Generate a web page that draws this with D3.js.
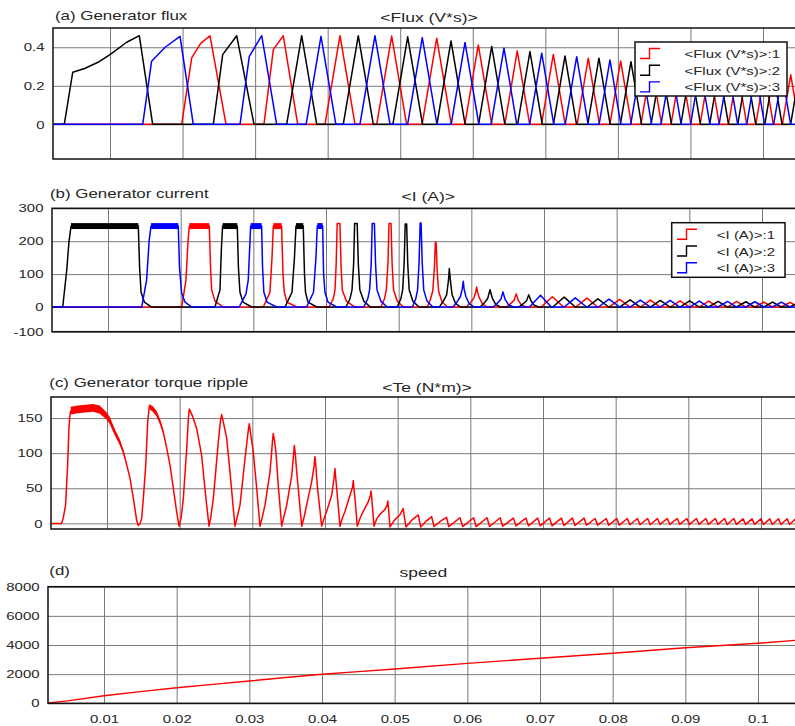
<!DOCTYPE html>
<html><head><meta charset="utf-8">
<script src="https://cdn.jsdelivr.net/npm/d3@7"></script>
<style>body{margin:0;background:#fff}svg{display:block}</style>
</head><body>
<svg id="chart" width="795" height="726"></svg>
<script>
// ---------------- DATA (time in ms) ----------------
const timeTicks = [10, 20, 30, 40, 50, 60, 70, 80, 90, 100];
const timeTickLabels = ["0.01", "0.02", "0.03", "0.04", "0.05", "0.06", "0.07", "0.08", "0.09", "0.1"];

const seriesColors = ["#ff0000", "#000000", "#0000ff"];
const fluxNames = ["<Flux (V*s)>:1", "<Flux (V*s)>:2", "<Flux (V*s)>:3"];
const currentNames = ["<I (A)>:1", "<I (A)>:2", "<I (A)>:3"];

const fluxTickValues = [0, 0.2, 0.4];
const fluxTickLabels = ["0", "0.2", "0.4"];
const currentTickValues = [-75, 0, 100, 200, 300];
const currentTickLabels = ["-100", "0", "100", "200", "300"];
const torqueTickValues = [0, 50, 100, 150];
const torqueTickLabels = ["0", "50", "100", "150"];
const speedTickValues = [0, 2000, 4000, 6000, 8000];
const speedTickLabels = ["0", "2000", "4000", "6000", "8000"];

// pulses: [tStart, t1, v1, t2, v2, ..., tEnd]  (value 0 at tStart and tEnd)
const fluxPhase1 = [
  [19.88, 21.26,0.345, 22.5,0.42, 23.78,0.46, 25.99],
  [31.22, 32.51,0.388, 33.88,0.46, 35.87],
  [39.63, 41.70,0.46, 43.77],
  [46.76, 48.82,0.458, 50.88],
  [53.02, 55.03,0.447, 57.04],
  [58.91, 60.76,0.412, 62.61],
  [64.42, 66.13,0.381, 67.84],
  [69.47, 71.10,0.363, 72.73],
  [74.38, 75.92,0.343, 77.46],
  [78.90, 80.38,0.329, 81.86],
  [83.18, 84.60,0.317, 86.02],
  [87.33, 88.70,0.305, 90.07],
  [91.33, 92.65,0.293, 93.97],
  [95.24, 96.50,0.281, 97.76],
  [99.01, 100.22,0.269, 101.43],
  [102.67, 103.82,0.257, 104.97]
];
const fluxPhase2 = [
  [3.70, 4.86,0.27, 6.5,0.29, 8.5,0.325, 10.0,0.362, 12.3,0.426, 14.04,0.46, 15.88],
  [24.24, 25.53,0.362, 27.46,0.46, 29.85],
  [34.35, 36.42,0.46, 38.49],
  [42.15, 44.22,0.46, 46.29],
  [48.99, 51.03,0.454, 53.07],
  [55.06, 57.00,0.433, 58.94],
  [60.80, 62.61,0.404, 64.42],
  [66.18, 67.88,0.378, 69.58],
  [71.12, 72.71,0.355, 74.30],
  [75.85, 77.39,0.343, 78.93],
  [80.34, 81.80,0.325, 83.26],
  [84.57, 85.98,0.313, 87.39],
  [88.68, 90.03,0.301, 91.38],
  [92.65, 93.95,0.289, 95.25],
  [96.52, 97.76,0.277, 99.00],
  [100.25, 101.44,0.265, 102.63],
  [103.81, 104.95,0.255, 106.09]
];
const fluxPhase3 = [
  [14.51, 15.73,0.327, 17.6,0.40, 19.65,0.457, 21.48],
  [27.92, 29.20,0.353, 30.91,0.46, 32.97],
  [37.03, 39.08,0.457, 41.13],
  [44.45, 46.52,0.46, 48.59],
  [51.02, 53.04,0.45, 55.06],
  [57.02, 58.93,0.425, 60.84],
  [62.53, 64.30,0.395, 66.07],
  [67.84, 69.50,0.369, 71.16],
  [72.74, 74.32,0.351, 75.90],
  [77.41, 78.91,0.334, 80.41],
  [81.77, 83.21,0.321, 84.65],
  [85.94, 87.33,0.309, 88.72],
  [90.02, 91.35,0.297, 92.68],
  [93.95, 95.23,0.285, 96.51],
  [97.76, 98.99,0.273, 100.22],
  [101.47, 102.64,0.261, 103.81]
];

const currentPhase1 = [
  [20.14, 20.73,82, 21.01,200, 21.19,246, 23.94,246, 24.11,120, 24.27,52, 24.72,18, 25.87],
  [31.37, 32.29,45, 32.57,150, 32.75,246, 33.89,246, 34.08,100, 34.26,45, 34.63,15, 35.97],
  [40.4, 41.0,25, 41.24,52, 41.40,130, 41.54,254, 41.92,254, 42.06,130, 42.24,52, 42.8,18, 43.99],
  [47.55, 48.05,25, 48.3,52, 48.52,130, 48.67,254, 48.95,254, 49.1,130, 49.3,52, 49.8,18, 50.65],
  [53.95, 54.4,25, 54.7,50, 54.92,120, 55.05,196, 55.15,196, 55.3,110, 55.5,48, 55.95,16, 56.7],
  [59.3, 59.95,15, 60.35,28, 60.6,45, 60.73,61, 60.85,45, 61.1,28, 61.55,9, 62.2],
  [64.8, 65.45,11, 65.9,21, 66.18,40, 66.45,21, 66.9,6, 67.55],
  [69.6, 71.15,31, 72.7],
  [74.4, 75.9,27, 77.4],
  [78.95, 80.4,23, 81.85],
  [83.25, 84.65,21, 86.0],
  [87.35, 88.72,19, 90.05],
  [91.35, 92.67,18, 93.95],
  [95.25, 96.52,17, 97.77],
  [99.0, 100.24,15, 101.45],
  [102.65, 103.84,14, 105.0]
];
const currentPhase2 = [
  [3.77, 4.32,112, 4.63,198, 4.91,246, 14.17,246, 14.35,120, 14.55,45, 15.0,15, 16.0],
  [24.72, 25.41,52, 25.61,180, 25.77,246, 27.79,246, 27.95,120, 28.16,45, 28.58,15, 29.77],
  [34.36, 35.32,45, 35.66,150, 35.87,246, 36.87,246, 37.04,100, 37.18,45, 37.52,15, 38.72],
  [42.75, 43.3,25, 43.58,52, 43.80,130, 43.94,254, 44.29,254, 44.45,130, 44.66,52, 45.2,18, 46.1],
  [49.8, 50.3,25, 50.55,52, 50.75,130, 50.9,252, 51.1,252, 51.25,130, 51.45,52, 51.95,18, 52.8],
  [55.6, 56.2,20, 56.6,37, 56.85,80, 56.97,117, 57.12,80, 57.35,37, 57.8,12, 58.5],
  [61.2, 61.85,14, 62.25,26, 62.57,53, 62.9,26, 63.35,8, 64.0],
  [66.5, 67.15,10, 67.6,19, 67.9,37, 68.2,19, 68.6,6, 69.25],
  [71.2, 72.78,30, 74.3],
  [75.95, 77.42,25, 78.9],
  [80.4, 81.85,22, 83.25],
  [84.65, 86.0,20, 87.35],
  [88.7, 90.05,19, 91.35],
  [92.65, 93.97,17, 95.25],
  [96.5, 97.78,16, 99.0],
  [100.23, 101.46,15, 102.65],
  [103.84, 105.0,14, 106.2]
];
const currentPhase3 = [
  [14.64, 15.31,82, 15.67,203, 15.92,246, 19.67,246, 19.84,120, 20.14,42, 20.60,15, 21.52],
  [28.06, 28.99,40, 29.30,82, 29.54,200, 29.63,246, 31.14,246, 31.27,120, 31.45,45, 31.88,15, 33.21],
  [37.33, 38.28,45, 38.62,150, 38.80,246, 39.54,246, 39.67,100, 39.86,45, 40.27,15, 41.47],
  [45.2, 45.75,25, 46.0,52, 46.22,130, 46.36,254, 46.66,254, 46.82,130, 47.02,52, 47.55,18, 48.4],
  [51.9, 52.35,25, 52.6,52, 52.8,130, 52.96,255, 53.08,255, 53.25,130, 53.45,52, 53.9,18, 54.7],
  [57.5, 58.1,18, 58.5,32, 58.75,55, 58.89,78, 59.0,55, 59.25,32, 59.7,10, 60.4],
  [63.0, 63.6,12, 64.05,23, 64.35,46, 64.65,23, 65.1,7, 65.8],
  [68.0, 69.52,36, 71.0],
  [72.8, 74.3,28, 75.85],
  [77.5, 78.95,24, 80.4],
  [81.85, 83.25,21, 84.65],
  [86.0, 87.35,20, 88.7],
  [90.05, 91.37,18, 92.65],
  [93.95, 95.25,17, 96.5],
  [97.77, 99.01,16, 100.23],
  [101.45, 102.66,15, 103.84]
];
// noisy flat tops of the current pulses: [tStart, tEnd]
const currentTop1 = [[21.19, 23.94], [32.75, 33.89]];
const currentTop2 = [[4.91, 14.17], [25.77, 27.79], [35.87, 36.87]];
const currentTop3 = [[15.92, 19.67], [29.63, 31.14], [38.80, 39.54]];
const currentTopRange = [237, 255];

const torque = [
  [2.25,0],[3.75,0],[3.97,7],[4.30,26],[4.58,83],[4.76,135],[4.90,154],[5.0,160],[6.0,162],[7.0,163.5],[8.1,164.5],
  [9.0,162],[9.96,153],[10.41,146],[11.0,131.5],[11.79,115],[12.24,102],[12.7,84],[13.17,64],[13.62,36],[14.09,4],
  [14.31,-3],[14.55,0],[14.77,7],[15.0,35],[15.33,83],[15.60,144],[15.82,167],[16.3,163],[16.84,156],[17.3,145],
  [17.75,130],[18.2,108],[18.67,83],[19.1,52],[19.59,16],[19.91,-4],[20.2,8],[20.5,35],[20.97,107],[21.2,150],
  [21.33,163],[21.8,152],[22.34,135],[22.7,115],[23.02,97],[23.62,35],[24.04,-4],[24.3,10],[24.63,35],[25.32,116],
  [25.6,145],[25.78,155],[26.1,140],[26.47,121],[26.93,73],[27.3,30],[27.61,-4],[27.9,8],[28.30,26],[28.99,92],
  [29.44,132],[29.58,142],[29.8,125],[30.13,102],[30.60,50],[31.05,-4],[31.4,10],[31.74,26],[32.43,73],[32.80,120],
  [32.88,128],[33.05,118],[33.26,100],[33.57,54],[34.04,-4],[34.35,10],[34.73,26],[35.42,68],[35.65,95],[35.78,111],
  [35.9,100],[36.11,73],[36.45,35],[36.80,-4],[37.1,8],[37.47,26],[38.16,59],[38.5,82],[38.62,95],[38.75,80],
  [38.94,54],[39.54,-4],[39.9,8],[40.23,17],[40.92,40],[41.25,65],[41.37,78],[41.45,68],[41.61,50],[42.06,-4],
  [42.4,8],[42.75,17],[43.44,40],[43.8,52],[43.89,61],[43.98,50],[44.13,35],[44.44,-4],[44.85,8],[45.27,17],
  [45.96,31],[46.25,40],[46.33,46],[46.42,38],[46.56,20],[46.74,-4],[47.1,6],[47.57,13],[48.26,20],[48.55,26],
  [48.63,32],[48.72,24],[48.94,-5],[49.6,5],[50.3,12],[50.77,21],[50.85,14],[51.14,-5],[52.0,5],[52.84,12],
  [53.17,-5],[54.0,4],[54.68,9.5],[55.0,-4.5],[56.0,4],[56.74,8.5],[57.02,-4.5],[58.58,8],[58.95,-4.5],[60.45,8],
  [60.8,-4.5],[62.3,8],[62.65,-4.5],[64.1,8],[64.45,-4],[65.93,7.5],[66.28,-3.5],[67.65,7.5],[68.0,-3.5],[69.27,7.5],
  [69.62,-3.5],[70.9,7.5],[71.25,-3.5],[72.53,7.5],[72.88,-3],[74.05,7.5],[74.4,-3],[75.65,7.5],[76.0,-2.5],[77.17,7],
  [77.52,-2.5],[78.7,7],[79.05,-2.5],[80.15,7],[80.5,-2.5],[81.6,7],[81.95,-2],[83.0,7],[83.35,-2],[84.4,7],
  [84.75,-2],[85.75,7],[86.1,-1.5],[87.1,7],[87.45,-1.5],[88.47,7],[88.82,-1.5],[89.8,7],[90.15,-1.5],[91.12,7],
  [91.47,-1.5],[92.42,7],[92.77,-1.5],[93.72,7],[94.07,-1.5],[95.0,7],[95.35,-1.5],[96.27,7],[96.62,-1.5],[97.53,6.5],
  [97.88,-1.5],[98.76,6.5],[99.11,-1.5],[99.99,6.5],[100.34,-1.5],[101.21,6.5],[101.56,-1.5],[102.41,6.5],[102.76,-1.5],
  [103.59,6.5],[103.94,-1.5],[104.75,6.5],[105.1,-1.5]
];
// noisy band on the first torque humps: [t, low, high]
const torqueBand = [
  [5.0,155,166],[6.0,157,168],[7.0,158,169],[8.1,159,170],[9.0,156,168],[9.96,148,158],[10.41,141,151],
  [11.0,127,136],[11.79,111,119],[12.24,99,105],[12.7,83,86]
];
const torqueBand2 = [[15.82,163,170],[16.3,159,167],[16.84,152,160],[17.3,141,148],[17.75,127,133]];

const speed = [
  [2.3,30],[5,170],[10,520],[15,800],[20,1070],[25,1300],[30,1530],[35,1770],[40,1990],[45,2170],
  [50,2350],[60,2740],[70,3090],[80,3430],[90,3810],[100,4120],[105.5,4330]
];

// ---------------- LAYOUT ----------------
const FONT = "'Liberation Sans', Arial, sans-serif";
const SX = 1.3;           // horizontal stretch of the original picture's text
const TXT = "#262626";
const GRID = "#7a7a7a";
const LW = 1.5;
const T0 = 2.2, T1 = 106.5;

const panels = {
  a: {x10:110, x100:763, left:53, right:800, top:28, bottom:159, yDomain:[-0.18, 0.5],
      ticks: fluxTickValues, labels: fluxTickLabels},
  b: {x10:108, x100:762, left:52, right:800, top:208.3, bottom:331.7, yDomain:[-75, 300],
      ticks: currentTickValues, labels: currentTickLabels},
  c: {x10:107, x100:761, left:51, right:800, top:397, bottom:529, yDomain:[-8, 180],
      ticks: torqueTickValues, labels: torqueTickLabels},
  d: {x10:104, x100:758, left:48, right:800, top:586.7, bottom:703.3, yDomain:[0, 8000],
      ticks: speedTickValues, labels: speedTickLabels, showX: true}
};

const svg = d3.select("#chart");
svg.append("rect").attr("width", 795).attr("height", 726).attr("fill", "#fff");

function stretchedText(g, x, y, str, size, anchor) {
  return g.append("text")
    .attr("transform", `translate(${x},${y}) scale(${SX},1)`)
    .attr("text-anchor", anchor || "start")
    .attr("font-family", FONT).attr("font-size", size).attr("fill", TXT)
    .text(str);
}

function setupPanel(key) {
  const p = panels[key];
  const x = d3.scaleLinear().domain([10, 100]).range([p.x10, p.x100]);
  const y = d3.scaleLinear().domain(p.yDomain).range([p.bottom, p.top]);
  const g = svg.append("g");
  const clipId = "clip-" + key;
  svg.append("clipPath").attr("id", clipId).append("rect")
    .attr("x", p.left).attr("y", p.top).attr("width", p.right - p.left).attr("height", p.bottom - p.top);

  // vertical grid (and x labels for panel d)
  const gx = g.append("g").attr("transform", `translate(0,${p.bottom})`)
    .call(d3.axisBottom(x).tickValues(timeTicks).tickSize(-(p.bottom - p.top)).tickPadding(11.5)
      .tickFormat((d, i) => p.showX ? timeTickLabels[i] : ""));
  gx.select(".domain").remove();
  gx.selectAll("line").attr("stroke", GRID).attr("stroke-width", 1);
  gx.selectAll("text").attr("font-family", FONT).attr("font-size", 11.5).attr("fill", TXT)
    .attr("transform", `scale(${SX},1)`);

  // horizontal grid + y labels
  const gy = g.append("g").attr("transform", `translate(${p.left},0)`)
    .call(d3.axisLeft(y).tickValues(p.ticks).tickSize(-(p.right - p.left)).tickPadding(0)
      .tickFormat((d, i) => p.labels[i]));
  gy.select(".domain").remove();
  gy.selectAll("line").attr("stroke", GRID).attr("stroke-width", 1);
  gy.selectAll("text").attr("font-family", FONT).attr("font-size", 11.5).attr("fill", TXT)
    .attr("x", -8.5 / SX).attr("transform", `scale(${SX},1)`);

  const data = svg.append("g").attr("clip-path", `url(#${clipId})`);
  return {p, x, y, g, data};
}

function drawFrame(P) {
  const p = P.p;
  svg.append("rect").attr("x", p.left).attr("y", p.top)
    .attr("width", p.right - p.left).attr("height", p.bottom - p.top)
    .attr("fill", "none").attr("stroke", "#111").attr("stroke-width", 1.5);
}

function expand(pulses) {
  const pts = [[T0, 0]];
  pulses.forEach(pl => {
    pts.push([pl[0], 0]);
    for (let i = 1; i < pl.length - 1; i += 2) pts.push([pl[i], pl[i + 1]]);
    pts.push([pl[pl.length - 1], 0]);
  });
  pts.push([T1, 0]);
  return pts;
}

function lineGen(P) {
  return d3.line().x(d => P.x(d[0])).y(d => P.y(d[1]));
}

function legend(box, names) {
  const g = svg.append("g");
  g.append("rect").attr("x", box.x).attr("y", box.y).attr("width", box.w).attr("height", box.h)
    .attr("fill", "#fff").attr("stroke", "#111").attr("stroke-width", 1.5);
  names.forEach((n, i) => {
    const yl = box.row0 + i * box.dy;
    const x0 = box.sx0, xm = box.sx0 + 9.5, x1 = box.sx0 + 20;
    g.append("path").attr("d", `M${x0},${yl}H${xm}V${yl - 10}H${x1}`)
      .attr("fill", "none").attr("stroke", seriesColors[i]).attr("stroke-width", 1.4);
    stretchedText(g, box.tx, yl - 0.5, n, 11.5, "end");
  });
}

// ---------------- PANEL A : flux ----------------
const A = setupPanel("a");
[fluxPhase1, fluxPhase2, fluxPhase3].forEach((ph, i) => {
  A.data.append("path").datum(expand(ph)).attr("d", lineGen(A))
    .attr("fill", "none").attr("stroke", seriesColors[i]).attr("stroke-width", LW)
    .attr("stroke-linejoin", "round");
});
drawFrame(A);
stretchedText(svg, 55, 20, "(a) Generator flux", 13);
stretchedText(svg, 429, 21.7, "<Flux (V*s)>", 13.5, "middle");
legend({x:635, y:42, w:152, h:54, row0:58.5, dy:16.7, sx0:640, tx:780}, fluxNames);

// ---------------- PANEL B : current ----------------
const B = setupPanel("b");
[[currentPhase1, currentTop1], [currentPhase2, currentTop2], [currentPhase3, currentTop3]].forEach((pair, i) => {
  B.data.selectAll(null).data(pair[1]).enter().append("rect")
    .attr("x", d => B.x(d[0])).attr("width", d => B.x(d[1]) - B.x(d[0]))
    .attr("y", B.y(currentTopRange[1])).attr("height", B.y(currentTopRange[0]) - B.y(currentTopRange[1]))
    .attr("fill", seriesColors[i]);
  B.data.append("path").datum(expand(pair[0])).attr("d", lineGen(B))
    .attr("fill", "none").attr("stroke", seriesColors[i]).attr("stroke-width", LW)
    .attr("stroke-linejoin", "round");
});
drawFrame(B);
stretchedText(svg, 50, 197.7, "(b) Generator current", 13);
stretchedText(svg, 428.3, 200.5, "<I (A)>", 13.5, "middle");
legend({x:671.7, y:222.7, w:113.3, h:54.6, row0:239.3, dy:16.7, sx0:677, tx:775}, currentNames);

// ---------------- PANEL C : torque ----------------
const C = setupPanel("c");
const bandGen = d3.area().x(d => C.x(d[0])).y0(d => C.y(d[1])).y1(d => C.y(d[2]));
C.data.append("path").datum(torqueBand).attr("d", bandGen).attr("fill", "#ff0000");
C.data.append("path").datum(torqueBand2).attr("d", bandGen).attr("fill", "#ff0000");
C.data.append("path").datum(torque).attr("d", lineGen(C))
  .attr("fill", "none").attr("stroke", "#ff0000").attr("stroke-width", LW).attr("stroke-linejoin", "round");
drawFrame(C);
stretchedText(svg, 49.3, 386.7, "(c) Generator torque ripple", 13);
stretchedText(svg, 427, 391.7, "<Te (N*m)>", 13.5, "middle");

// ---------------- PANEL D : speed ----------------
const D = setupPanel("d");
D.data.append("path").datum(speed).attr("d", lineGen(D))
  .attr("fill", "none").attr("stroke", "#ff0000").attr("stroke-width", 1.4);
drawFrame(D);
stretchedText(svg, 49.3, 575, "(d)", 13);
stretchedText(svg, 423.3, 576.7, "speed", 13.5, "middle");
</script>
</body></html>
